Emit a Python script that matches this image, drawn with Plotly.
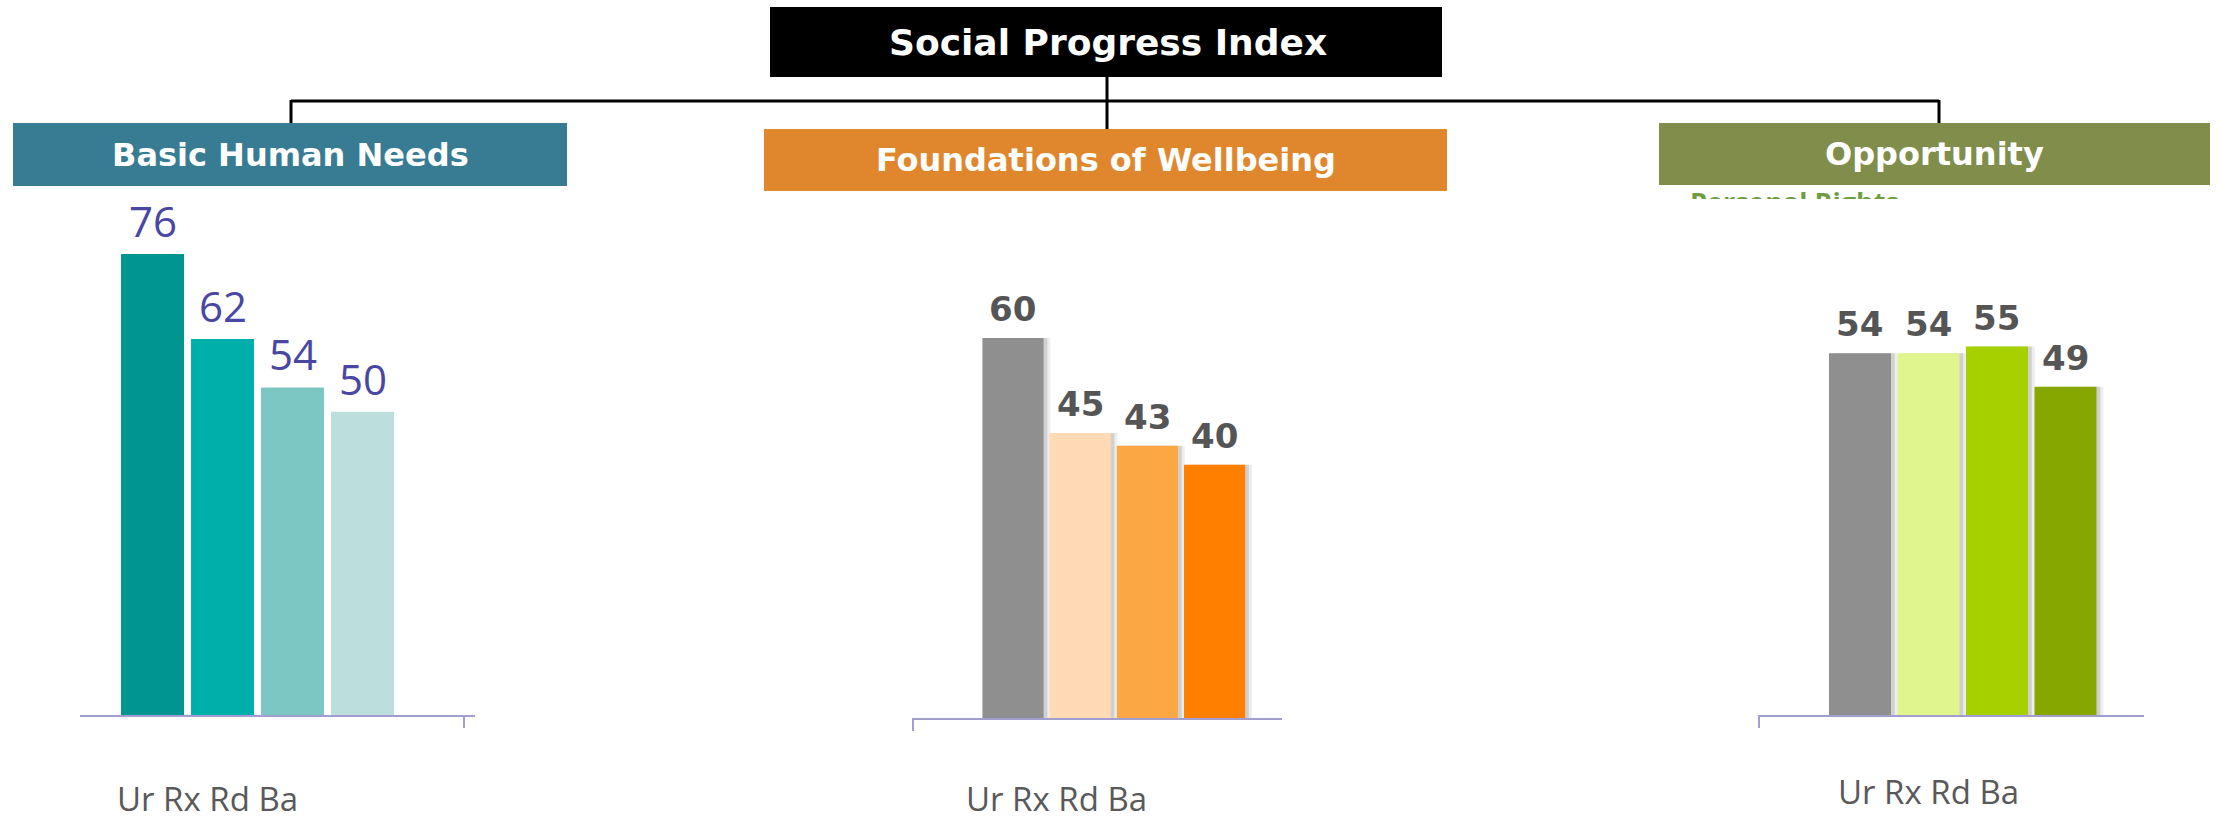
import plotly.graph_objects as go

# ---------------- data ----------------
title_text = "Social Progress Index"
panel_titles = ["Basic Human Needs", "Foundations of Wellbeing", "Opportunity"]
categories = ["Ur", "Rx", "Rd", "Ba"]
basic_needs = [76, 62, 54, 50]
foundations = [60, 45, 43, 40]
opportunity = [54, 54, 55, 49]
fragment_text = "Personal Rights"

# ---------------- styling ----------------
W, H = 2223, 822


def fx(p):
    return p / W


def fy(p):
    return 1 - p / H


panels = [
    dict(values=basic_needs,
         colors=["#009590", "#00AFAA", "#7CC6C3", "#BCDEDC"],
         xpix=(80, 475), xrange=(-1.036, 4.607),
         ybase=715, ppu=6.066, width=0.9, shadow=False,
         lab_font=dict(family="Open Sans", size=42, color="#4A47A3"),
         lab_shift=3,
         tick_x=464, cat_x=207),
    dict(values=foundations,
         colors=["#8F8F8F", "#FFDAB4", "#FBA744", "#FF7F00"],
         xpix=(913, 1282), xrange=(-1.488, 4.003),
         ybase=718, ppu=6.333, width=0.91, shadow=True,
         lab_font=dict(family="DejaVu Sans", size=34, color="#555555", weight="bold"),
         lab_shift=7,
         tick_x=913, cat_x=1056),
    dict(values=opportunity,
         colors=["#8F8F8F", "#E0F58E", "#A6D000", "#86A700"],
         xpix=(1759, 2144), xrange=(-1.474, 4.146),
         ybase=715, ppu=6.70, width=0.905, shadow=True,
         lab_font=dict(family="DejaVu Sans", size=34, color="#555555", weight="bold"),
         lab_shift=7,
         tick_x=1759, cat_x=1928),
]
headers = [
    dict(x0=13, x1=567, y0=123, y1=186, color="#377C92", conn_x=291),
    dict(x0=764, x1=1447, y0=129, y1=191, color="#E0872E", conn_x=1107),
    dict(x0=1659, x1=2210, y0=123, y1=185, color="#808D4B", conn_x=1939),
]
cat_bottom = [823, 823, 816]

AXIS_COLOR = "#A29ECF"
YTOP_PIX = 150

fig = go.Figure()
layout = dict(
    width=W, height=H,
    margin=dict(l=0, r=0, t=0, b=0),
    paper_bgcolor="white", plot_bgcolor="rgba(0,0,0,0)",
    showlegend=False, barmode="overlay",
    font=dict(family="Open Sans"),
)
shapes = []
annotations = []

for i, p in enumerate(panels, start=1):
    xa = "x" if i == 1 else f"x{i}"
    ya = "y" if i == 1 else f"y{i}"
    xkey = "xaxis" if i == 1 else f"xaxis{i}"
    ykey = "yaxis" if i == 1 else f"yaxis{i}"
    ymax = (p["ybase"] - YTOP_PIX) / p["ppu"]

    if p["shadow"]:
        for off, alpha in [(0.10, 0.07), (0.055, 0.12)]:
            fig.add_trace(go.Bar(
                x=categories, y=p["values"], xaxis=xa, yaxis=ya,
                width=p["width"], offset=-p["width"] / 2 + off,
                marker=dict(color=f"rgba(0,0,0,{alpha})", line=dict(width=0)),
                hoverinfo="skip"))
    fig.add_trace(go.Bar(
        x=categories, y=p["values"], xaxis=xa, yaxis=ya,
        width=p["width"],
        marker=dict(color=p["colors"], line=dict(width=0)),
        hovertemplate="%{x}: %{y}<extra></extra>"))

    layout[xkey] = dict(
        domain=[fx(p["xpix"][0]), fx(p["xpix"][1])],
        range=list(p["xrange"]), type="category",
        categoryorder="array", categoryarray=categories,
        showline=True, linecolor=AXIS_COLOR, linewidth=2,
        showticklabels=False, ticks="", showgrid=False, zeroline=False,
        anchor=ya, fixedrange=True)
    layout[ykey] = dict(
        domain=[fy(p["ybase"]), fy(YTOP_PIX)], range=[0, ymax],
        visible=False, showgrid=False, zeroline=False,
        anchor=xa, fixedrange=True)

    # value labels
    for c, v in zip(categories, p["values"]):
        annotations.append(dict(
            x=c, y=v, xref=xa, yref=ya, text=str(v), showarrow=False,
            xanchor="center", yanchor="bottom", yshift=p["lab_shift"],
            font=p["lab_font"]))

    # axis end tick
    shapes.append(dict(type="line", xref="paper", yref="paper",
                       x0=fx(p["tick_x"]), x1=fx(p["tick_x"]),
                       y0=fy(p["ybase"]), y1=fy(p["ybase"] + 13),
                       line=dict(color=AXIS_COLOR, width=2)))

    # category label
    annotations.append(dict(
        x=fx(p["cat_x"]), y=fy(cat_bottom[i - 1]), xref="paper", yref="paper",
        text=" ".join(categories), showarrow=False,
        xanchor="center", yanchor="bottom",
        font=dict(family="Open Sans", size=33, color="#595959")))

    # header box
    hd = headers[i - 1]
    shapes.append(dict(type="rect", xref="paper", yref="paper",
                       x0=fx(hd["x0"]), x1=fx(hd["x1"]),
                       y0=fy(hd["y1"]), y1=fy(hd["y0"]),
                       fillcolor=hd["color"], line=dict(width=0), layer="below"))
    annotations.append(dict(
        x=fx((hd["x0"] + hd["x1"]) / 2), y=fy((hd["y0"] + hd["y1"]) / 2),
        xref="paper", yref="paper", text=panel_titles[i - 1], showarrow=False,
        xanchor="center", yanchor="middle",
        font=dict(family="DejaVu Sans", size=32, color="white", weight="bold")))

# title box
shapes.append(dict(type="rect", xref="paper", yref="paper",
                   x0=fx(770), x1=fx(1442), y0=fy(77), y1=fy(7),
                   fillcolor="black", line=dict(width=0), layer="below"))
annotations.append(dict(
    x=fx(1108), y=fy(42), xref="paper", yref="paper", text=title_text,
    showarrow=False, xanchor="center", yanchor="middle",
    font=dict(family="DejaVu Sans", size=36, color="white", weight="bold")))

# connector lines
CONN_Y = 101
line_style = dict(color="black", width=3)
shapes.append(dict(type="line", xref="paper", yref="paper",
                   x0=fx(headers[0]["conn_x"]), x1=fx(headers[2]["conn_x"]),
                   y0=fy(CONN_Y), y1=fy(CONN_Y), line=line_style))
shapes.append(dict(type="line", xref="paper", yref="paper",
                   x0=fx(1107), x1=fx(1107), y0=fy(77), y1=fy(129), line=line_style))
for hd in (headers[0], headers[2]):
    shapes.append(dict(type="line", xref="paper", yref="paper",
                       x0=fx(hd["conn_x"]), x1=fx(hd["conn_x"]),
                       y0=fy(CONN_Y - 1), y1=fy(hd["y0"]), line=line_style))

# clipped text fragment peeking out below the Opportunity box
fig.add_trace(go.Scatter(
    x=[0], y=[-0.5], xaxis="x4", yaxis="y4", mode="text",
    text=[fragment_text], textposition="middle right",
    textfont=dict(family="Open Sans", size=27, color="#6E9E3F", weight="bold"),
    cliponaxis=True, hoverinfo="skip"))
layout["xaxis4"] = dict(domain=[fx(1690), fx(1960)], range=[0, 1],
                        visible=False, anchor="y4", fixedrange=True)
layout["yaxis4"] = dict(domain=[fy(199), fy(186)], range=[0, 1],
                        visible=False, anchor="x4", fixedrange=True)

layout["shapes"] = shapes
layout["annotations"] = annotations
fig.update_layout(**layout)
fig.write_html("out.html",
               config={"displayModeBar": False},
               post_script="document.body.style.margin='0';"
                           "document.body.style.overflow='hidden';")
